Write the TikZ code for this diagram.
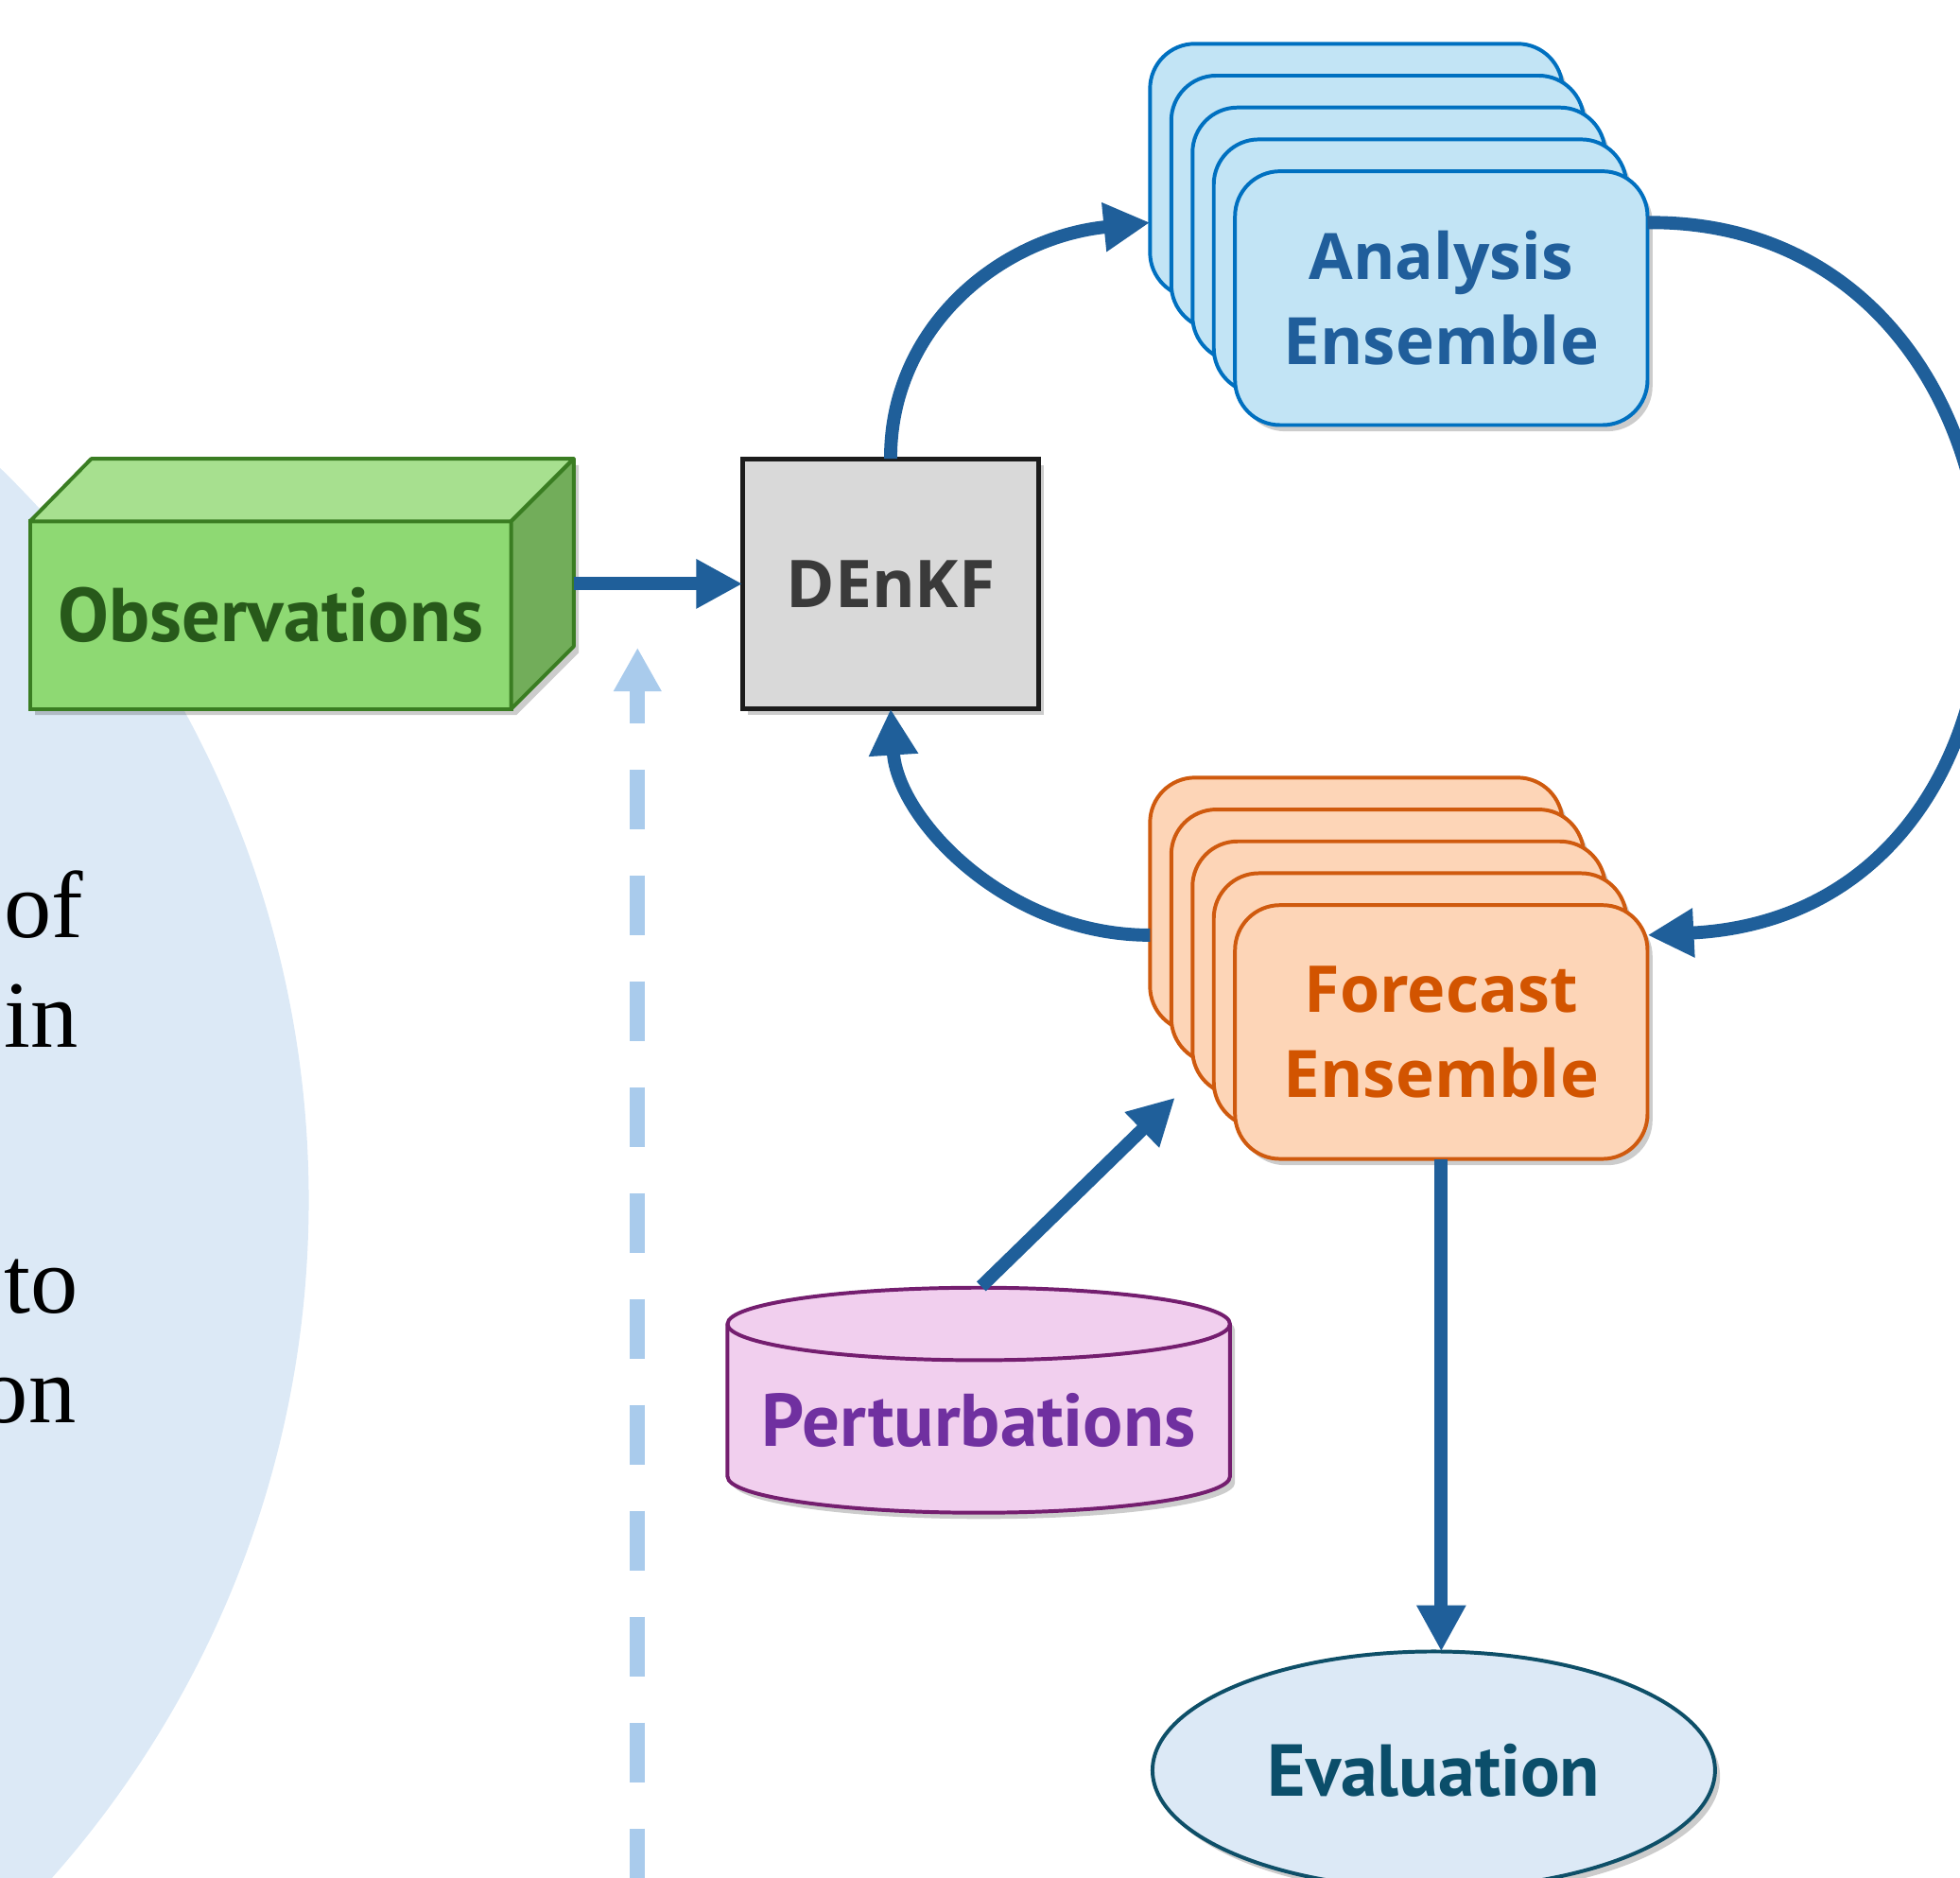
\documentclass[tikz,border=0pt]{standalone}
\usepackage{fontspec}
\usepackage{graphicx}
\usetikzlibrary{arrows.meta,shadows,shapes.geometric}
\newfontfamily\osans{Open Sans}
\newfontfamily\ptsans{PT Sans}
\newfontfamily\lserif{Liberation Serif}
\definecolor{bgblue}{HTML}{DCE9F6}
\definecolor{obsfront}{HTML}{8ED973}
\definecolor{obstop}{HTML}{A7E08F}
\definecolor{obsside}{HTML}{72AD5A}
\definecolor{obsline}{HTML}{3A7D22}
\definecolor{obstext}{HTML}{27591A}
\definecolor{denkffill}{HTML}{D9D9D9}
\definecolor{denkfline}{HTML}{1C1C1C}
\definecolor{denkftext}{HTML}{3A3A3A}
\definecolor{anafill}{HTML}{C2E4F5}
\definecolor{analine}{HTML}{0070C0}
\definecolor{anatext}{HTML}{205E9B}
\definecolor{fcfill}{HTML}{FDD5B7}
\definecolor{fcline}{HTML}{CF5A0E}
\definecolor{fctext}{HTML}{D25400}
\definecolor{pertfill}{HTML}{F1CFEE}
\definecolor{pertline}{HTML}{741E6F}
\definecolor{perttext}{HTML}{7030A0}
\definecolor{evalline}{HTML}{0E4F68}
\definecolor{evaltext}{HTML}{0B4E6A}
\definecolor{arrowblue}{HTML}{1F5F9A}
\definecolor{dashblue}{HTML}{A9CBEC}
\begin{document}
\begin{tikzpicture}[x=1pt,y=-1pt,
  sh/.style={drop shadow={shadow xshift=4pt,shadow yshift=-5pt,opacity=0.2,fill=black}},
  anacard/.style={draw=analine,fill=anafill,line width=3pt,rounded corners=36pt,
    minimum width=330pt,minimum height=203pt,inner sep=0pt,outer sep=0pt,sh},
  fccard/.style={draw=fcline,fill=fcfill,line width=3pt,rounded corners=36pt,
    minimum width=330pt,minimum height=203pt,inner sep=0pt,outer sep=0pt,sh},
  flow/.style={draw=arrowblue,line width=10.5pt,-{Triangle[length=37pt,width=37pt]}},
  sidetext/.style={font=\lserif\fontsize{76}{90}\selectfont,anchor=base east,inner sep=0pt}]
\useasboundingbox (0,0) rectangle (1568,1502);
\begin{scope}
\clip (0,0) rectangle (1568,1502);
% background circle
\fill[bgblue] (-571,960) circle[radius=818pt];
% left side text fragments
\node[sidetext] (t1) at (67,750) {of};
\node[sidetext] (t2) at (63,838) {in};
\node[sidetext] (t3) at (63,1050) {to};
\node[sidetext] (t4) at (61,1138) {on};
% dashed arrow
\coordinate (dtop) at (510,518);
\coordinate (dbot) at (510,1515);
\draw[dashblue,line width=12pt,dash pattern=on 48pt off 36.7pt,dash phase=20pt,
  {Triangle[length=35pt,width=36pt]}-] (dtop) -- (dbot);
% Observations cuboid
\path[sh] (24,567) -- (24,417) -- (73,367) -- (459,367) -- (459,517) -- (409,567) -- cycle;
\node[draw=obsline,fill=obsfront,line width=3pt,minimum width=385pt,minimum height=150pt,
  inner sep=0pt,outer sep=0pt,text=obstext] (obs) at (216.5,492)
  {\resizebox{340pt}{!}{\ptsans\bfseries Observations}};
\draw[draw=obsline,fill=obstop,line width=3pt,line join=round]
  (obs.north west) -- ++(49,-50) -- ++(386,0) -- (obs.north east) -- cycle;
\draw[draw=obsline,fill=obsside,line width=3pt,line join=round]
  (obs.north east) -- ++(50,-50) -- ++(0,150) -- (obs.south east) -- cycle;
% DEnKF
\node[draw=denkfline,fill=denkffill,line width=3.5pt,minimum width=237pt,minimum height=200pt,
  inner sep=0pt,outer sep=0pt,text=denkftext,sh] (denkf) at (712.5,467)
  {\resizebox{167pt}{!}{\osans\bfseries DEnKF}};
% Analysis ensemble stack
\foreach \i in {1,...,4}{
  \node[anacard] (ana\i) at ({1153-17*(5-\i)},{238.5-25.5*(5-\i)}) {};
}
\node[anacard,align=center,text=anatext,font=\fontsize{52}{68}\selectfont] (ana5) at (1153,238.5)
  {\resizebox{211pt}{!}{\osans\bfseries Analysis}\\\resizebox{252pt}{!}{\osans\bfseries Ensemble}};
% Forecast ensemble stack
\foreach \i in {1,...,4}{
  \node[fccard] (fc\i) at ({1153-17*(5-\i)},{825.5-25.5*(5-\i)}) {};
}
\node[fccard,align=center,text=fctext,font=\fontsize{52}{68}\selectfont] (fc5) at (1153,825.5)
  {\resizebox{219pt}{!}{\osans\bfseries Forecast}\\\resizebox{252pt}{!}{\osans\bfseries Ensemble}};
% Perturbations cylinder
\draw[draw=pertline,fill=pertfill,line width=3pt,sh]
  (582,1059) -- (582,1181) arc[start angle=180,end angle=360,x radius=201pt,y radius=29pt]
  -- (984,1059) arc[start angle=0,end angle=180,x radius=201pt,y radius=29pt] -- cycle;
\draw[draw=pertline,line width=3pt]
  (582,1059) arc[start angle=180,end angle=360,x radius=201pt,y radius=29pt];
\node[text=perttext,inner sep=0pt] (pert) at (783,1136)
  {\resizebox{347pt}{!}{\ptsans\bfseries Perturbations}};
\coordinate (perttop) at (785,1029);
\coordinate (fcin) at (940,878);
% Evaluation
\node[ellipse,draw=evalline,fill=bgblue,line width=3pt,minimum width=450pt,minimum height=190pt,
  inner sep=0pt,outer sep=0pt,text=evaltext,sh] (eval) at (1147,1416)
  {\resizebox{266pt}{!}{\ptsans\bfseries Evaluation}};
% connectors
\draw[flow] ([xshift=50pt]obs.east |- denkf.west) -- (denkf.west);
\draw[flow] (denkf.north) .. controls (712,262) and (800,190) .. ([yshift=-41.5pt]ana1.west);
\draw[flow] ([yshift=60.5pt]ana5.east) .. controls (1660,175) and (1680,730) .. ([yshift=77.5pt]fc5.east);
\draw[flow] ([yshift=-24.5pt]fc1.west) .. controls (805,748) and (718,655) .. (denkf.south);
\draw[flow] (perttop) -- (fcin);
\draw[flow] (fc5.south) -- (fc5.south |- eval.north);
\end{scope}
\end{tikzpicture}
\end{document}
